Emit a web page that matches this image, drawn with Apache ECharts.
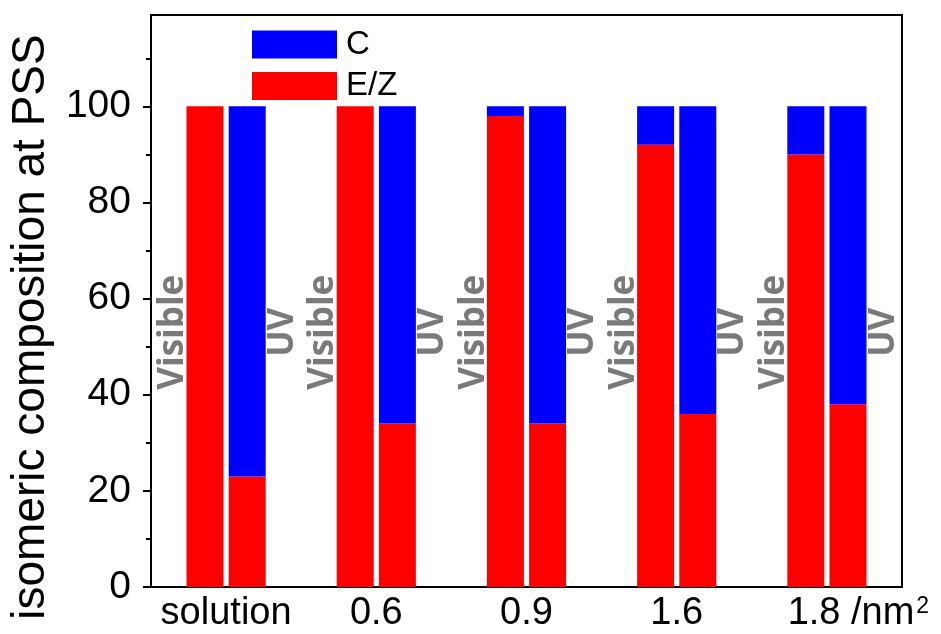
<!DOCTYPE html>
<html>
<head>
<meta charset="utf-8">
<script src="https://cdn.jsdelivr.net/npm/echarts@6/dist/echarts.min.js"></script>
<style>html,body{margin:0;padding:0;background:#fff;}#chart{width:941px;height:634px;}</style>
</head>
<body>
<div id="chart"></div>
<script>
const categories = ['solution', '0.6', '0.9', '1.6', '1.8'];
const visibleEZ = [100, 100, 98, 92, 90];
const visibleC = [0, 0, 2, 8, 10];
const uvEZ = [23, 34, 34, 36, 38];
const uvC = [77, 66, 66, 64, 62];
const yTickLabels = [0, 20, 40, 60, 80, 100];
const yMinorTicks = [10, 30, 50, 70, 90, 110];
const modeLabelY = 53;
// label placement relative to each group centre, in category units
const visibleShift = -0.352;
const uvShift = 0.378;

const RED = '#ff0000', BLUE = '#0000ff';
const chart = echarts.init(document.getElementById('chart'));

const labelSeries = (name, shift) => ({
  type: 'scatter',
  name: name + ' label',
  xAxisIndex: 1,
  silent: true,
  symbolSize: 1,
  itemStyle: { color: 'rgba(0,0,0,0)' },
  data: categories.map((c, i) => [i + 1 + shift, modeLabelY]),
  label: {
    show: true,
    formatter: name,
    position: 'inside',
    rotate: 90,
    fontFamily: '"Open Sans", sans-serif',
    fontWeight: 'bold',
    fontSize: 35,
    color: '#595959'
  },
  labelLayout: { hideOverlap: false },
  z: 5
});

chart.setOption({
  animation: false,
  backgroundColor: '#fff',
  grid: { left: 149, right: 39, top: 15, bottom: 47, show: true, borderColor: '#000', borderWidth: 2 },
  legend: {
    data: ['C', 'E/Z'],
    orient: 'vertical',
    left: 252, top: 28, padding: 0,
    itemWidth: 85, itemHeight: 28, itemGap: 8.4,
    icon: 'rect',
    textStyle: { fontFamily: '"Liberation Sans", Arial, sans-serif', fontSize: 33, color: '#000', padding: [0, 0, 0, 4] }
  },
  xAxis: [{
    type: 'category',
    data: categories,
    axisLine: { lineStyle: { color: '#000', width: 2 } },
    axisTick: { show: false },
    axisLabel: {
      interval: 0,
      hideOverlap: false,
      margin: 8,
      fontFamily: '"Liberation Sans", Arial, sans-serif',
      fontSize: 38,
      color: '#000',
      formatter: v => v === '1.8' ? '{pad|}{a|1.8 /nm}{sup|2}' : v,
      rich: {
        pad: { width: 63 },
        a: { fontFamily: '"Liberation Sans", Arial, sans-serif', fontSize: 38, color: '#000' },
        sup: { fontFamily: '"Liberation Sans", Arial, sans-serif', fontSize: 23, color: '#000', verticalAlign: 'top', padding: [0, 0, 14, 2] }
      }
    },
    splitLine: { show: false }
  }, {
    type: 'value',
    min: 0.5, max: 5.5,
    show: false
  }],
  yAxis: [{
    type: 'value',
    min: 0, max: 119,
    name: 'isomeric composition at PSS',
    nameLocation: 'middle',
    nameGap: 97,
    nameTextStyle: { fontFamily: '"Liberation Sans", Arial, sans-serif', fontSize: 46, color: '#000', padding: [0, 52, 0, 0] },
    axisLine: { show: true, lineStyle: { color: '#000', width: 2 } },
    axisTick: { show: true, length: 8, lineStyle: { color: '#000', width: 2 }, customValues: yTickLabels },
    axisLabel: { customValues: yTickLabels, margin: 20, fontFamily: '"Liberation Sans", Arial, sans-serif', fontSize: 39, color: '#000' },
    splitLine: { show: false }
  }, {
    type: 'value',
    min: 0, max: 119,
    position: 'left',
    axisLine: { show: false },
    axisTick: { show: true, length: 5, lineStyle: { color: '#000', width: 2 }, customValues: yMinorTicks },
    axisLabel: { show: false },
    splitLine: { show: false }
  }],
  series: [
    { name: 'E/Z', type: 'bar', stack: 'vis', barWidth: 37, barGap: '14%', data: visibleEZ, itemStyle: { color: RED } },
    { name: 'C', type: 'bar', stack: 'vis', barWidth: 37, barGap: '14%', data: visibleC, itemStyle: { color: BLUE } },
    { name: 'E/Z', type: 'bar', stack: 'uv', barWidth: 37, barGap: '14%', data: uvEZ, itemStyle: { color: RED } },
    { name: 'C', type: 'bar', stack: 'uv', barWidth: 37, barGap: '14%', data: uvC, itemStyle: { color: BLUE } },
    labelSeries('Visible', visibleShift),
    labelSeries('UV', uvShift)
  ]
});
</script>
</body>
</html>
